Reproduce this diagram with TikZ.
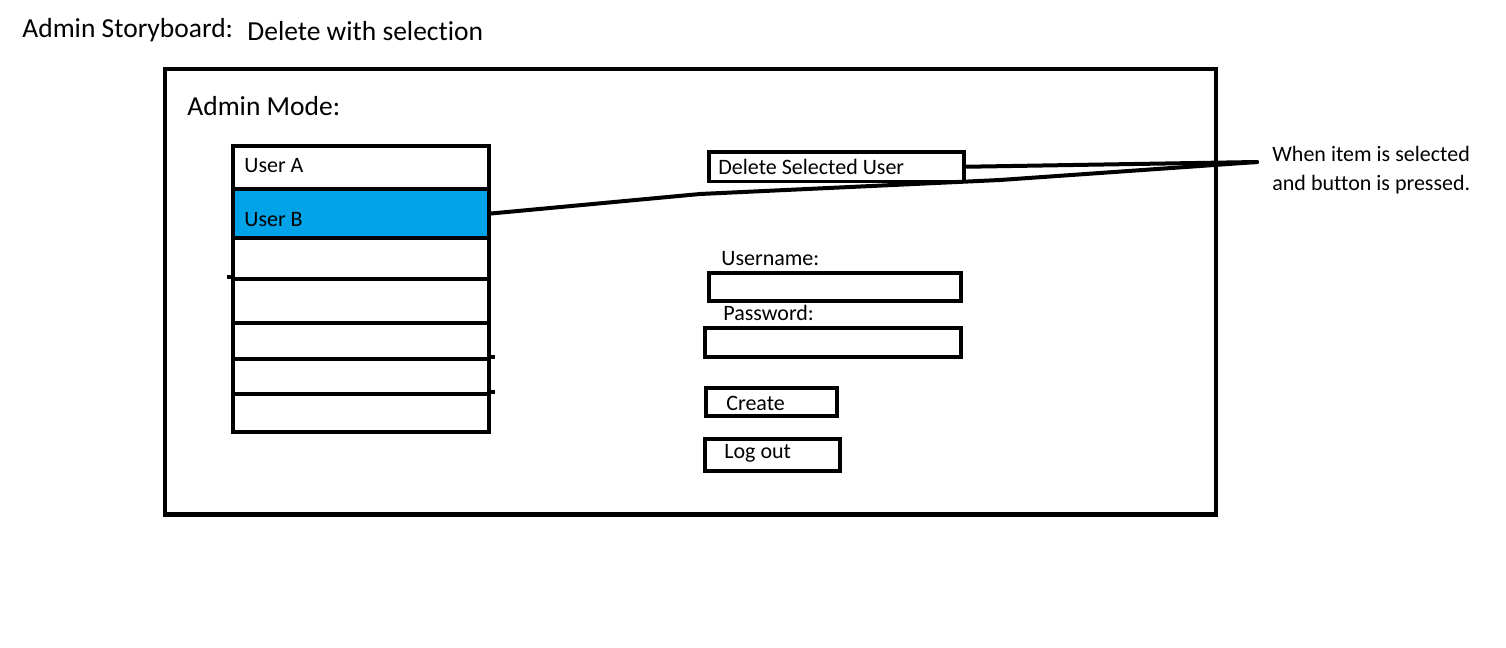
\documentclass[tikz,border=0pt]{standalone}
\usepackage{fontspec}
\setmainfont{Carlito}[Ligatures={NoCommon}]
\definecolor{selblue}{RGB}{0,162,232}
\begin{document}
\begin{tikzpicture}[x=0.5pt,y=-0.5pt,
  big/.style={font=\fontsize{13.75pt}{16pt}\selectfont, anchor=base west, inner sep=0pt},
  small/.style={font=\fontsize{11pt}{13pt}\selectfont, anchor=base west, inner sep=0pt},
  frm/.style={draw, line width=2.25pt, inner sep=0pt},
  cell/.style={draw, line width=2pt, minimum width=128pt, inner sep=0pt},
  fieldbox/.style={draw, line width=2pt, inner sep=0pt},
  conn/.style={line width=2pt, line cap=round, line join=round}]
\useasboundingbox (0,0) rectangle (1506,648);
\fill[white] (0,0) rectangle (1506,648);

% titles
\node[big] (title1) at (22,38) {Admin Storyboard:};
\node[big] (title2) at (247,40) {Delete with selection};

% outer frame
\node[frm, minimum width=525.5pt, minimum height=222.75pt] (frame) at (690.5,291.75) {};
\node[big] (mode) at (187,115) {Admin Mode:};

% list
\node[cell, minimum height=21.75pt] (rowA) at (361,167.25) {};
\node[cell, minimum height=24.5pt, fill=selblue] (rowB) at (361,213.5) {};
\node[cell, minimum height=20.5pt] (row3) at (361,258.5) {};
\node[cell, minimum height=22pt] (row4) at (361,301) {};
\node[cell, minimum height=18pt] (row5) at (361,341) {};
\node[cell, minimum height=17.5pt] (row6) at (361,376.5) {};
\node[cell, minimum height=19pt] (row7) at (361,413) {};
\draw[line width=2pt] (row4.north west) -- ++(-4,0);
\draw[line width=2pt] (row6.north east) -- ++(4,0);
\draw[line width=2pt] (row7.north east) -- ++(4,0);
\node[small] (ua) at (244,172) {User A};
\node[small] (ub) at (244,226) {User B};

% right-hand controls
\node[fieldbox, line width=1.75pt, minimum width=127.5pt, minimum height=14.75pt] (del) at (836.5,166.75) {};
\node[small] (deltext) at (718,174) {Delete Selected User};
\node[small] (unlabel) at (721,265) {Username:};
\node[fieldbox, minimum width=126pt, minimum height=14.3pt] (unbox) at (834.7,287) {};
\node[small] (pwlabel) at (723,320) {Password:};
\node[fieldbox, minimum width=128pt, minimum height=14.65pt] (pwbox) at (832.7,342.7) {};
\node[fieldbox, minimum width=65.65pt, minimum height=14.3pt] (create) at (771.7,402) {};
\node[small] (createtext) at (726,410) {Create};
\node[fieldbox, minimum width=67.5pt, minimum height=16.3pt] (logout) at (772.2,455) {};
\node[small] (logouttext) at (724,458) {Log out};

% annotation
\node[small] (note1) at (1272,161) {When item is selected};
\node[small] (note2) at (1272,190) {and button is pressed.};
\coordinate (tip) at (1257,162);
\draw[conn] (del.east) -- (tip);
\draw[conn] (rowB.east) -- (700,194) -- (1000,180) -- (tip);
\end{tikzpicture}
\end{document}
